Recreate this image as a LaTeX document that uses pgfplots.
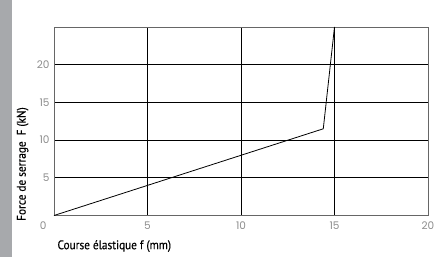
\documentclass[border=0pt]{standalone}
\usepackage{pgfplots}
\pgfplotsset{compat=1.18}
\usepackage{fontspec}
\setmainfont{PT Sans}[FakeStretch=0.9, FakeBold=0.4]
\newfontfamily\tickfont{Poppins}
\definecolor{strip}{HTML}{A7A9AC}
\definecolor{tickgray}{HTML}{8C8C8C}
\begin{document}
\begin{tikzpicture}[x=1pt,y=1pt]
\path[use as bounding box] (0,0) rectangle (441,257);
\fill[strip] (0,0) rectangle (12,257);
\begin{axis}[
  at={(54pt,41.5pt)}, anchor=south west,
  scale only axis, width=374pt, height=188.5pt,
  xmin=0, xmax=20, ymin=0, ymax=25,
  xtick={0,5,10,15,20}, xticklabels={,5,10,15,20},
  ytick={0,5,10,15,20}, yticklabels={,5,10,15,20},
  grid=major,
  major grid style={black, line width=0.8pt},
  axis line style={black!60, line width=0.9pt},
  major tick length=0pt,
  tick label style={font=\tickfont\fontsize{10.5}{12}\selectfont, text=tickgray},
  xticklabel style={yshift=-3pt},
  yticklabel style={xshift=-1pt},
  /pgf/number format/assume math mode=true,
  xlabel={Course élastique f (mm)},
  ylabel={Force de serrage\ \ F (kN)},
  label style={font=\fontsize{12.5}{14}\selectfont},
  xlabel style={at={(axis description cs:0,-0.162)}, anchor=west},
  ylabel style={at={(axis description cs:-0.084,0.273)}, anchor=center},
  clip=false,
]
\addplot[black, line width=0.8pt] coordinates {(0,0) (14.4,11.5) (15,25)};
\node[font=\tickfont\fontsize{10.5}{12}\selectfont, text=tickgray, anchor=east] at (axis cs:0,0) [xshift=-4pt, yshift=-10pt] {0};
\end{axis}
\end{tikzpicture}
\end{document}
